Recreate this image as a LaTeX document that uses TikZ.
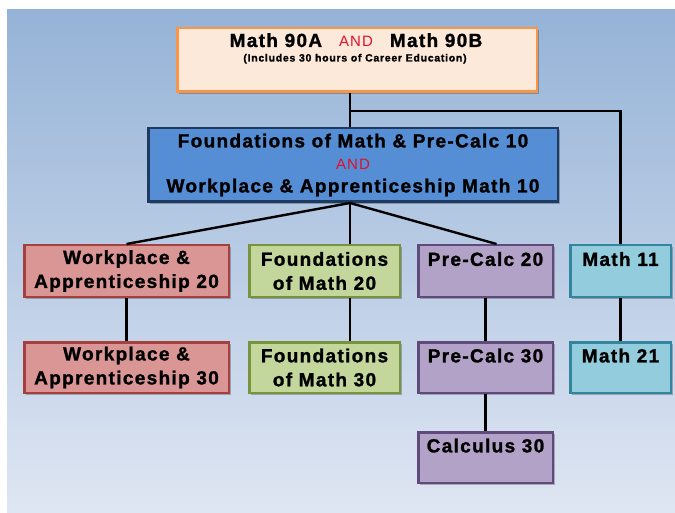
\documentclass[tikz,border=0pt]{standalone}
\usepackage{fontspec}
\setmainfont{Liberation Sans}[LetterSpace=7, BoldFeatures={FakeBold=1.3}]
\usetikzlibrary{shadows}
\definecolor{bgtop}{HTML}{95B3D7}
\definecolor{bgbot}{HTML}{DFE6F3}
\definecolor{andred}{HTML}{E0102A}
\definecolor{topfill}{HTML}{FDE9D9}
\definecolor{topdraw}{HTML}{F79646}
\definecolor{bluefill}{HTML}{558ED5}
\definecolor{bluedraw}{HTML}{1F3A60}
\definecolor{wfill}{HTML}{DA9694}
\definecolor{wdraw}{HTML}{A5403E}
\definecolor{ffill}{HTML}{C3D69B}
\definecolor{fdraw}{HTML}{77933C}
\definecolor{pfill}{HTML}{B3A2C7}
\definecolor{pdraw}{HTML}{604A7B}
\definecolor{mfill}{HTML}{93CDDD}
\definecolor{mdraw}{HTML}{31859C}
\tikzset{
  box/.style={draw, rectangle, line width=2.5pt, inner sep=0pt, align=center,
    font=\fontsize{19}{24}\selectfont\bfseries,
    drop shadow={shadow xshift=2pt, shadow yshift=-2pt, opacity=0.25, fill=black}},
  conn/.style={draw=black, line width=2.4pt},
  wbox/.style={box, fill=wfill, draw=wdraw},
  fbox/.style={box, fill=ffill, draw=fdraw},
  pbox/.style={box, fill=pfill, draw=pdraw},
  mbox/.style={box, fill=mfill, draw=mdraw},
}
\newcommand{\andword}{{\fontsize{15}{16}\selectfont\mdseries\color{andred}AND}}
\begin{document}
\begin{tikzpicture}[x=1pt,y=-1pt]
\useasboundingbox (0,0) rectangle (675,513);
\shade[top color=bgtop, bottom color=bgbot] (7,10) rectangle (675,513);

% nodes
\node[box, fill=topfill, draw=topdraw, minimum width=359.5pt, minimum height=63.5pt] (top) at (357,60) {};
\node[box, fill=bluefill, draw=bluedraw, minimum width=409.5pt, minimum height=73.5pt] (blue) at (353,165)
  {Foundations of Math \& Pre-Calc 10\\[-2pt]\andword\\[-1pt]Workplace \& Apprenticeship Math 10};

\node[wbox, minimum width=204.5pt, minimum height=51.5pt] (w20) at (126.5,271) {Workplace \&\\Apprenticeship 20};
\node[fbox, minimum width=150.5pt, minimum height=51.5pt] (f20) at (324.5,271) {Foundations\\of Math 20};
\node[pbox, minimum width=134.5pt, minimum height=51.5pt] (p20) at (485.5,271) {Pre-Calc 20\\\phantom{P}};
\node[mbox, minimum width=100.5pt, minimum height=51.5pt] (m11) at (620.5,271) {Math 11\\\phantom{P}};

\node[wbox, minimum width=204.5pt, minimum height=50.5pt] (w30) at (126.5,367.5) {Workplace \&\\Apprenticeship 30};
\node[fbox, minimum width=150.5pt, minimum height=50.5pt] (f30) at (324.5,367.5) {Foundations\\of Math 30};
\node[pbox, minimum width=134.5pt, minimum height=50.5pt] (p30) at (485.5,367.5) {Pre-Calc 30\\\phantom{P}};
\node[mbox, minimum width=100.5pt, minimum height=50.5pt] (m21) at (620.5,367.5) {Math 21\\\phantom{P}};

\node[pbox, minimum width=134.5pt, minimum height=50.5pt] (c30) at (485.5,457.5) {Calculus 30\\\phantom{P}};

% top box text
\node[anchor=base, font=\fontsize{19}{22}\selectfont\bfseries, inner sep=0pt] (toptitle) at (356,47)
  {Math 90A\hspace{17pt}\andword\hspace{17pt}Math 90B};
\node[anchor=base, font=\fontsize{10.5}{12}\selectfont\bfseries, inner sep=0pt] (topsub) at (355,61.5)
  {(Includes 30 hours of Career Education)};

% connectors
\coordinate (j) at ([xshift=-7pt]top.south |- 0,111);
\draw[conn] ([xshift=-7pt]top.south) -- ([xshift=-3pt]blue.north);
\draw[conn] (j) -| (m11.north);
\coordinate (b) at ([xshift=-3pt]blue.south);
\draw[conn] (b) -- (w20.north);
\draw[conn] (b) -- (b |- f20.north);
\draw[conn] (b) -- ([xshift=11pt]p20.north);
\draw[conn] (w20) -- (w30);
\draw[conn] ([xshift=25.5pt]f20.south) -- ([xshift=25.5pt]f30.north);
\draw[conn] (p20) -- (p30);
\draw[conn] (p30) -- (c30);
\draw[conn] (m11) -- (m21);
\end{tikzpicture}
\end{document}
